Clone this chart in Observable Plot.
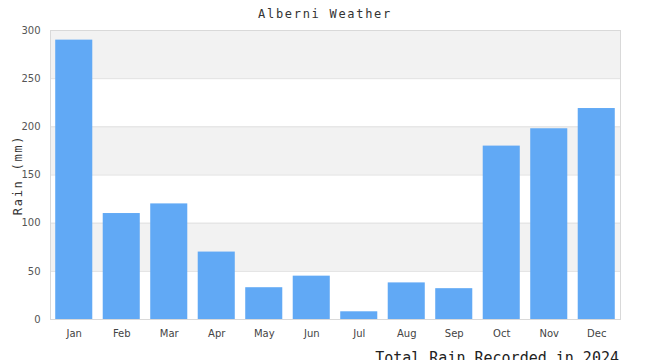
<!DOCTYPE html>
<html>
<head>
<meta charset="utf-8">
<script src="https://cdn.jsdelivr.net/npm/d3@7"></script>
<script src="https://cdn.jsdelivr.net/npm/@observablehq/plot@0.6"></script>
<style>
  body { margin: 0; background: #fff; width: 650px; height: 360px; overflow: hidden; }
  .title {
    height: 22px; line-height: 22px; padding-top: 0; box-sizing: border-box;
    font-family: "DejaVu Sans Mono", monospace; font-size: 12px; letter-spacing: 1.7px;
    text-align: center; color: #333; position: relative; top: 3px;
  }
  .caption {
    font-family: "DejaVu Sans Mono", monospace; font-size: 15px; line-height: 20px;
    text-align: right; padding-right: 31px; padding-top: 4px; color: #222;
  }
  #chart svg { display: block; }
</style>
</head>
<body>
<div class="title">Alberni Weather</div>
<div id="chart"></div>
<div class="caption">Total Rain Recorded in 2024</div>
<script>
// Monthly rainfall at Alberni, 2024 (mm)
const months = ["Jan", "Feb", "Mar", "Apr", "May", "Jun", "Jul", "Aug", "Sep", "Oct", "Nov", "Dec"];
const rain = [290, 110, 120, 70, 33, 45, 8, 38, 32, 180, 198, 219];
const yTicks = [0, 50, 100, 150, 200, 250, 300];
const yLabel = "Rain (mm)";

const data = months.map((m, i) => ({month: m, rain: rain[i]}));

// Alternating shaded bands between every other pair of gridlines, from the top down
const bands = [];
for (let i = yTicks.length - 1; i > 0; i -= 2) bands.push({lo: yTicks[i - 1], hi: yTicks[i]});

const chart = Plot.plot({
  width: 650,
  height: 322,
  marginTop: 8,
  marginBottom: 25,
  marginLeft: 50,
  marginRight: 30,
  style: {fontFamily: "DejaVu Sans, sans-serif", fontSize: "10px", color: "#555", background: "#fff"},
  x: {domain: months, paddingInner: 0.22, paddingOuter: 0.11, round: false, label: null},
  y: {domain: [0, 300], label: null},
  marks: [
    Plot.rect(bands, {y1: "lo", y2: "hi", fill: "#f2f2f2"}),
    Plot.ruleY(yTicks, {stroke: "#e0e0e0", strokeWidth: 1}),
    Plot.barY(data, {x: "month", y: "rain", fill: "#61a9f5"}),
    Plot.frame({stroke: "#d9d9d9", strokeWidth: 1}),
    Plot.axisY({ticks: yTicks, tickSize: 0, tickPadding: 10, label: null, fill: "#555"}),
    Plot.axisX({tickSize: 0, tickPadding: 10, label: null, fill: "#444", fontSize: 10}),
    Plot.text([yLabel], {
      frameAnchor: "left", textAnchor: "middle", rotate: -90, dx: -32, text: d => d,
      fontFamily: "DejaVu Sans Mono, monospace", fontSize: 12, fill: "#333",
      className: "ylabel"
    })
  ]
});

d3.select(chart).selectAll(".ylabel text").style("letter-spacing", "1.7px");
document.getElementById("chart").append(chart);
</script>
</body>
</html>
